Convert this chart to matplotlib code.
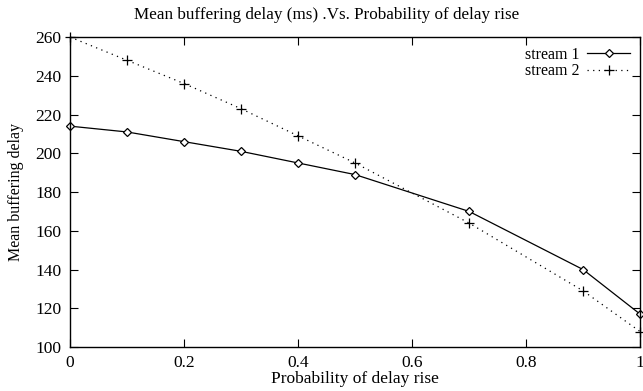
import matplotlib
matplotlib.use("Agg")
import matplotlib.pyplot as plt

prob = [0.0, 0.1, 0.2, 0.3, 0.4, 0.5, 0.7, 0.9, 1.0]
stream1 = [214, 211, 206, 201, 195, 189, 170, 140, 117]
stream2 = [260, 248, 236, 223, 209, 195, 164, 129, 108]

plt.rcParams["font.family"] = ["Liberation Serif", "DejaVu Serif"]
plt.rcParams["font.size"] = 11.5

fig = plt.figure(figsize=(6.43, 3.91), dpi=100)
ax = fig.add_axes([0.1089, 0.1125, 0.8865, 0.7928])

ax.plot(prob, stream1, color="black", linewidth=0.9, marker="D", markersize=4,
        markerfacecolor="white", markeredgecolor="black", markeredgewidth=0.9,
        label="stream 1", clip_on=False)
ax.plot(prob, stream2, color="black", linewidth=0.9, linestyle=(0, (1, 3.5)),
        marker="+", markersize=7, markeredgewidth=0.9, label="stream 2", clip_on=False)

ax.set_xlim(0, 1)
ax.set_ylim(100, 260)
ax.set_xticks([0, 0.2, 0.4, 0.6, 0.8, 1])
ax.set_xticklabels(["0", "0.2", "0.4", "0.6", "0.8", "1"])
ax.set_yticks(range(100, 261, 20))
ax.tick_params(direction="in", top=True, right=True, length=6, width=0.8,
               pad=6, labelsize=12.5)
for s in ax.spines.values():
    s.set_linewidth(1.0)

ax.set_xlabel("Probability of delay rise", fontsize=12.5, labelpad=0)
ax.set_ylabel("Mean buffering delay", fontsize=11.5, labelpad=8)
fig.text(0.508, 0.962, "Mean buffering delay (ms) .Vs. Probability of delay rise",
         fontsize=12.3, ha="center", va="center")

ax.legend(loc="upper right", frameon=False, markerfirst=False, handlelength=2.7,
          borderaxespad=0.2, labelspacing=0.05, handletextpad=0.5, fontsize=11.5)

fig.savefig("out.png", dpi=100)
